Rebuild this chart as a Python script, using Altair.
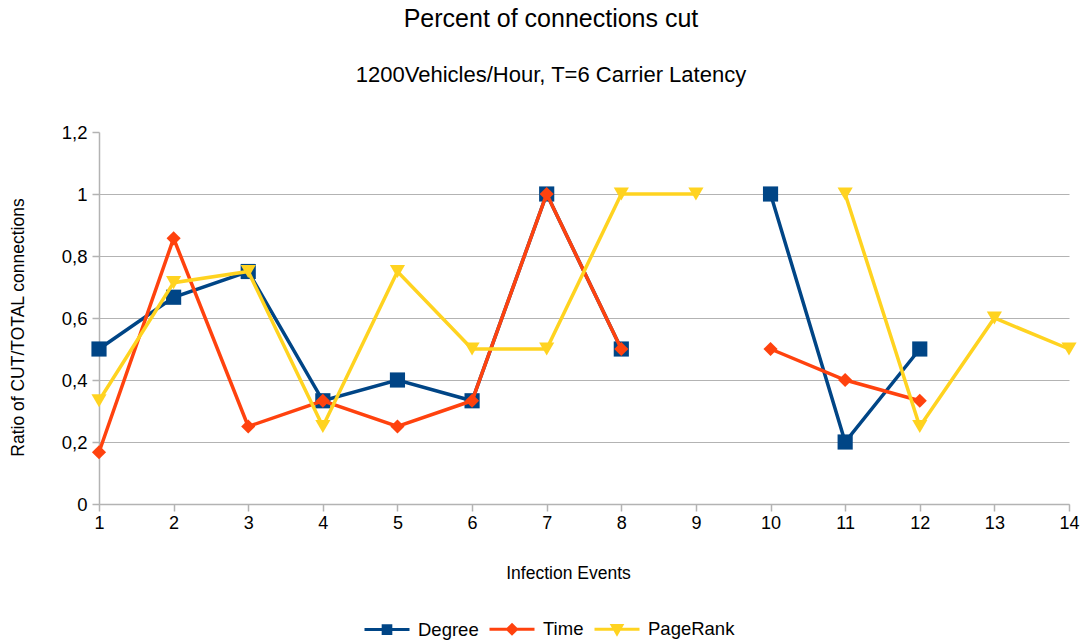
import altair as alt
import pandas as pd

# Infection events on the x axis
events = list(range(1, 15))

# Ratio of cut to total connections per strategy (None = no value for that event)
degree = [0.5, 0.667, 0.75, 0.333, 0.4, 0.333, 1.0, 0.5, None, 1.0, 0.2, 0.5, None, None]
time_based = [0.167, 0.857, 0.25, 0.333, 0.25, 0.333, 1.0, 0.5, None, 0.5, 0.4, 0.333, None, None]
pagerank = [0.333, 0.714, 0.75, 0.25, 0.75, 0.5, 0.5, 1.0, 1.0, None, 1.0, 0.25, 0.6, 0.5]

series_names = ["Degree", "Time", "PageRank"]
series_values = [degree, time_based, pagerank]
series_colors = ["#004586", "#ff420e", "#ffd320"]
marker_shapes = ["square", "diamond", "triangle-down"]
marker_sizes = [230, 200, 230]

# Legend glyphs: a short line with the series marker in its middle
legend_glyphs = [
    "M-1,0H1M-0.17,-0.17H0.17V0.17H-0.17Z",
    "M-1,0H1M0,-0.2L0.2,0L0,0.2L-0.2,0Z",
    "M-1,0H1M-0.21,-0.17H0.21L0,0.2Z",
]

y_ticks = [0, 0.2, 0.4, 0.6, 0.8, 1.0, 1.2]

# Long-form table; a new segment starts after every missing value so lines break there
rows = []
for name, vals in zip(series_names, series_values):
    seg = 0
    for ev, v in zip(events, vals):
        if v is None:
            seg += 1
            continue
        rows.append({"event": ev, "ratio": v, "series": name, "segment": f"{name}-{seg}"})
df = pd.DataFrame(rows)

FONT = "Liberation Sans"
AXIS_GREY = "#b3b3b3"

x_enc = alt.X(
    "event:Q",
    scale=alt.Scale(domain=[1, 14], nice=False, zero=False),
    axis=alt.Axis(
        values=events,
        title="Infection Events",
        grid=False,
        format="d",
        labelFontSize=18,
        labelPadding=3,
        labelFlush=False,
        tickSize=7,
        titleFontSize=17.5,
        titleFontWeight="normal",
        titleX=469,
        titleY=69,
        titleAlign="center",
        titleBaseline="middle",
    ),
)
y_enc = alt.Y(
    "ratio:Q",
    scale=alt.Scale(domain=[0, 1.2], nice=False),
    axis=alt.Axis(
        values=y_ticks,
        title="Ratio of CUT/TOTAL connections",
        labelExpr="replace(format(datum.value, '.1~f'), '.', ',')",
        labelFontSize=18.5,
        labelPadding=5,
        tickSize=7,
        gridOpacity=alt.condition("datum.value > 1.1", alt.value(0), alt.value(1)),
        titleFontSize=17.5,
        titleFontWeight="normal",
        titleAngle=270,
        titleX=-81,
        titleY=195,
        titleAlign="center",
        titleBaseline="middle",
    ),
)

base = alt.Chart(df)

layers = []
for name, color, shape, size in zip(series_names, series_colors, marker_shapes, marker_sizes):
    sub = base.transform_filter(alt.datum.series == name)
    line = sub.mark_line(color=color, strokeWidth=3.5, strokeJoin="miter").encode(
        x=x_enc, y=y_enc, detail="segment:N"
    )
    points = sub.mark_point(shape=shape, filled=True, color=color, size=size, opacity=1).encode(
        x=x_enc, y=y_enc
    )
    layers += [line, points]

legend_opts = alt.Legend(
    title=None,
    orient="none",
    direction="horizontal",
    legendX=264,
    legendY=473,
    symbolSize=2025,
    symbolStrokeWidth=3,
    labelFontSize=18.5,
    labelFont=FONT,
    labelColor="#000000",
    labelOffset=7,
    columnPadding=4,
    padding=0,
)
legend_layer = (
    base.transform_filter("false")
    .mark_point(filled=True, opacity=1)
    .encode(
        x=x_enc,
        y=y_enc,
        fill=alt.Fill("series:N", scale=alt.Scale(domain=series_names, range=series_colors), legend=legend_opts),
        stroke=alt.Stroke("series:N", scale=alt.Scale(domain=series_names, range=series_colors), legend=legend_opts),
        shape=alt.Shape("series:N", scale=alt.Scale(domain=series_names, range=legend_glyphs), legend=legend_opts),
    )
)
layers.append(legend_layer)

chart = (
    alt.layer(*layers)
    .properties(
        width=970,
        height=372,
        autosize=alt.AutoSizeParams(type="none"),
        padding={"left": 99, "top": 132, "right": 15, "bottom": 138},
        title=alt.TitleParams(
            "Percent of connections cut",
            subtitle="1200Vehicles/Hour, T=6 Carrier Latency",
            font=FONT,
            subtitleFont=FONT,
            fontSize=25,
            subtitleFontSize=22,
            fontWeight="normal",
            color="#000000",
            subtitleColor="#000000",
            anchor="middle",
            dx=-33,
            offset=37,
            subtitlePadding=33,
        ),
    )
    .configure(font=FONT, background="#ffffff")
    .configure_view(stroke=None)
    .configure_axis(
        domainColor=AXIS_GREY,
        tickColor=AXIS_GREY,
        gridColor=AXIS_GREY,
        domainWidth=1.5,
        tickWidth=1.5,
        gridWidth=1.2,
        labelColor="#000000",
        titleColor="#000000",
        labelFont=FONT,
        titleFont=FONT,
    )
)

chart.save("out.html", embed_options={"renderer": "svg", "actions": False})
